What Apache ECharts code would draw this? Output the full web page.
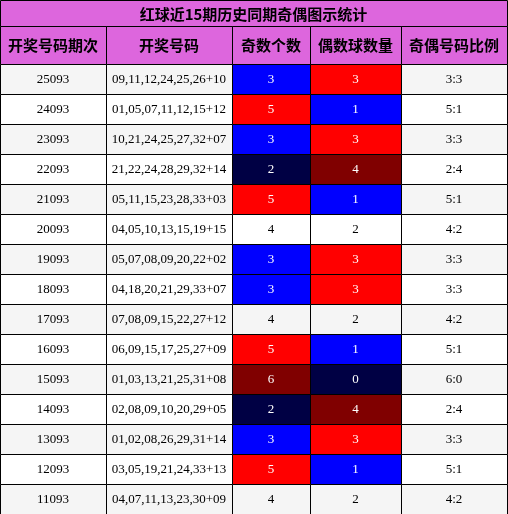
<!DOCTYPE html><html><head><meta charset="utf-8"><script src="https://cdn.jsdelivr.net/npm/echarts@6/dist/echarts.min.js"></script>
<style>html,body{margin:0;padding:0}#c{width:508px;height:514px}</style></head><body><div id="c"></div><script>
const title='红球近15期历史同期奇偶图示统计';
const headers=['开奖号码期次','开奖号码','奇数个数','偶数球数量','奇偶号码比例'];
const periods=['25093','24093','23093','22093','21093','20093','19093','18093','17093','16093','15093','14093','13093','12093','11093'];
const numbers=['09,11,12,24,25,26+10','01,05,07,11,12,15+12','10,21,24,25,27,32+07','21,22,24,28,29,32+14','05,11,15,23,28,33+03','04,05,10,13,15,19+15','05,07,08,09,20,22+02','04,18,20,21,29,33+07','07,08,09,15,22,27+12','06,09,15,17,25,27+09','01,03,13,21,25,31+08','02,08,09,10,20,29+05','01,02,08,26,29,31+14','03,05,19,21,24,33+13','04,07,11,13,23,30+09'];
const oddCounts=[3,5,3,2,5,4,3,3,4,5,6,2,3,5,4];
const evenCounts=[3,1,3,4,1,2,3,3,2,1,0,4,3,1,2];
const ratios=oddCounts.map((o,i)=>o+':'+evenCounts[i]);
const oddColor={2:'#000044',3:'#0000ff',5:'#ff0000',6:'#800000'};
const evenColor={0:'#000044',1:'#0000ff',3:'#ff0000',4:'#800000'};
const colEdges=[0,106,232,310,401,507];
const TITLE_H=26, HEAD_Y=26, HEAD_H=38, ROW0=64, ROW_H=30;
const MAG='#dd66dd';
const data=[];
periods.forEach((p,i)=>{
 const vals=[p,numbers[i],String(oddCounts[i]),String(evenCounts[i]),ratios[i]];
 vals.forEach((v,j)=>{
  let bg=i%2===0?'#f5f5f5':'#ffffff', fg='#000';
  if(j===2&&oddColor[oddCounts[i]]){bg=oddColor[oddCounts[i]];fg='#fff';}
  if(j===3&&evenColor[evenCounts[i]]){bg=evenColor[evenCounts[i]];fg='#fff';}
  data.push({value:[j,i],text:v,bg,fg});
 });
});
const font='"Liberation Serif","DejaVu Serif",serif';
const cjk='"Noto Sans CJK SC",sans-serif';
const chart=echarts.init(document.getElementById('c'));
chart.setOption({animation:false,
 grid:{left:0,right:0,top:0,bottom:0},
 xAxis:{type:'value',min:0,max:508,show:false},
 yAxis:{type:'value',min:0,max:514,inverse:true,show:false},
 series:[
 {type:'custom',data:[0],renderItem:(params,api)=>{
   const ch=[];
   const p0=api.coord([0,0]),p1=api.coord([507,TITLE_H]);
   ch.push({type:'rect',shape:{x:p0[0]+0.5,y:p0[1]+0.5,width:p1[0]-p0[0],height:p1[1]-p0[1]},style:{fill:MAG,stroke:'#000',lineWidth:1}});
   ch.push({type:'text',style:{text:title,x:(p0[0]+p1[0])/2,y:(p0[1]+p1[1])/2+1,align:'center',verticalAlign:'middle',font:'bold 15px '+cjk,fill:'#000'}});
   headers.forEach((h,j)=>{
     const a=api.coord([colEdges[j],HEAD_Y]),b=api.coord([colEdges[j+1],HEAD_Y+HEAD_H]);
     ch.push({type:'rect',shape:{x:a[0]+0.5,y:a[1]+0.5,width:b[0]-a[0],height:b[1]-a[1]},style:{fill:MAG,stroke:'#000',lineWidth:1}});
     ch.push({type:'text',style:{text:h,x:(a[0]+b[0])/2,y:(a[1]+b[1])/2,align:'center',verticalAlign:'middle',font:'bold 15px '+cjk,fill:'#000'}});
   });
   return {type:'group',children:ch};
 }},
 {type:'custom',data:data,renderItem:(params,api)=>{
   const d=data[params.dataIndex];
   const j=api.value(0),i=api.value(1);
   const a=api.coord([colEdges[j],ROW0+i*ROW_H]),b=api.coord([colEdges[j+1],ROW0+(i+1)*ROW_H]);
   return {type:'group',children:[
     {type:'rect',shape:{x:a[0]+0.5,y:a[1]+0.5,width:b[0]-a[0],height:b[1]-a[1]},style:{fill:d.bg,stroke:'#000',lineWidth:1}},
     {type:'text',style:{text:d.text,x:(a[0]+b[0])/2,y:(a[1]+b[1])/2+1,align:'center',verticalAlign:'middle',font:'13px '+font,fill:d.fg}}
   ]};
 }}
 ]});
</script></body></html>
